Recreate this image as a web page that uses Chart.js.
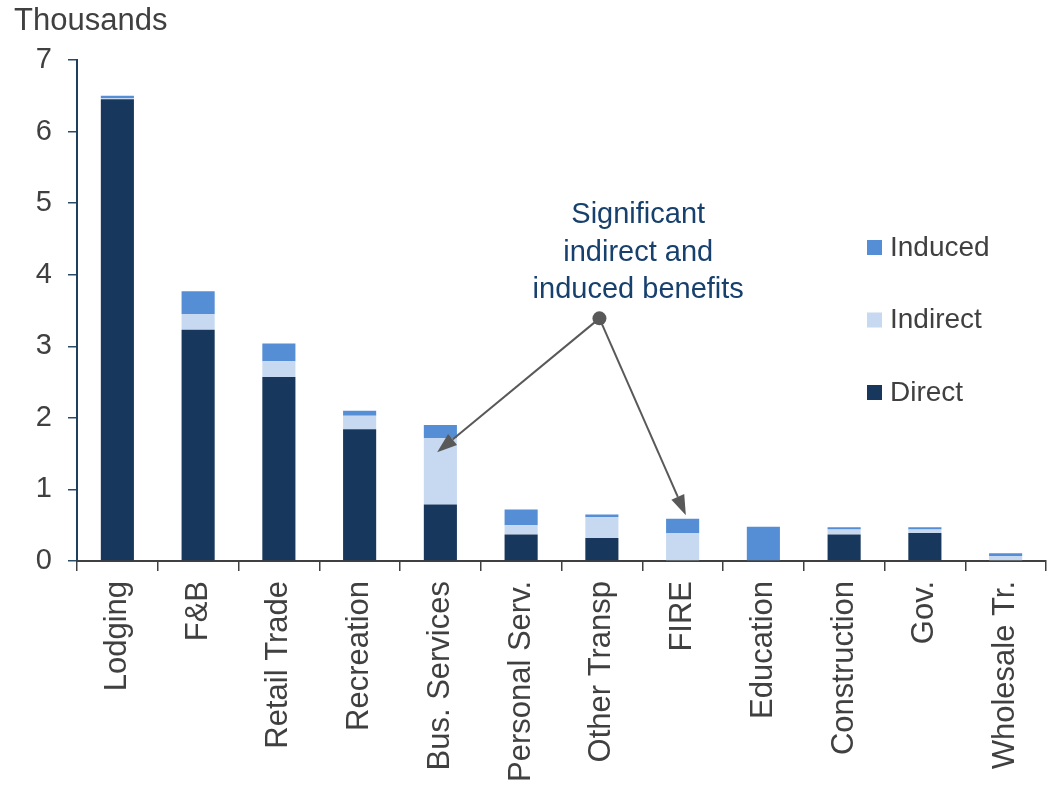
<!DOCTYPE html>
<html>
<head>
<meta charset="utf-8">
<script src="https://cdn.jsdelivr.net/npm/chart.js@4"></script>
<style>
  html, body { margin: 0; padding: 0; background: #fff; }
  #wrap { width: 1055px; height: 786px; }
</style>
</head>
<body>
<div id="wrap"><canvas id="jobsChart" width="1055" height="786"></canvas></div>
<script>
// Emplois par secteur (milliers)
const sectors = ['Lodging', 'F&B', 'Retail Trade', 'Recreation', 'Bus. Services', 'Personal Serv.',
  'Other Transp', 'FIRE', 'Education', 'Construction', 'Gov.', 'Wholesale Tr.'];
const direct   = [6.45, 3.23, 2.57, 1.84, 0.79, 0.37, 0.32, 0.00, 0.00, 0.37, 0.39, 0.01];
const indirect = [0.02, 0.22, 0.22, 0.19, 0.93, 0.13, 0.29, 0.39, 0.00, 0.07, 0.05, 0.06];
const induced  = [0.03, 0.32, 0.25, 0.07, 0.18, 0.22, 0.04, 0.20, 0.48, 0.03, 0.03, 0.04];
const yTicks = [0, 1, 2, 3, 4, 5, 6, 7];

const noteLines = ['Significant', 'indirect and', 'induced benefits'];

const FONT = '"Liberation Sans", Arial, sans-serif';
const TEXT = '#404040';

// =========================
// Légende + annotation
// =========================
const overlay = {
  id: 'overlay',
  afterDraw(chart) {
    const ctx = chart.ctx;
    const x = chart.scales.x;
    const y = chart.scales.y;
    ctx.save();

    // titre d'axe
    ctx.font = '31px ' + FONT;
    ctx.fillStyle = TEXT;
    ctx.textAlign = 'left';
    ctx.textBaseline = 'middle';
    ctx.fillText('Thousands', 14, 21);

    // légende (ordre inverse : Induced en haut)
    const items = chart.data.datasets.slice().reverse();
    items.forEach((ds, i) => {
      const cy = 247 + i * 72.5;
      ctx.fillStyle = ds.backgroundColor;
      ctx.fillRect(867, cy - 7, 15, 15);
      ctx.fillStyle = TEXT;
      ctx.font = '28px ' + FONT;
      ctx.textAlign = 'left';
      ctx.fillText(ds.label, 890, cy + 1);
    });

    // texte de l'annotation
    ctx.fillStyle = '#17406d';
    ctx.font = '29px ' + FONT;
    ctx.textAlign = 'center';
    const tx = x.getPixelForValue(6.45);
    noteLines.forEach((line, i) => {
      ctx.fillText(line, tx, y.getPixelForValue(4.83 - i * 0.525));
    });

    // flèches
    const ox = x.getPixelForValue(5.97), oy = y.getPixelForValue(3.39);
    const targets = [
      [x.getPixelForValue(3.96), y.getPixelForValue(1.52)],
      [x.getPixelForValue(7.04), y.getPixelForValue(0.64)]
    ];
    ctx.strokeStyle = '#595959';
    ctx.fillStyle = '#595959';
    ctx.lineWidth = 2;
    targets.forEach(([tx2, ty2]) => {
      const ang = Math.atan2(ty2 - oy, tx2 - ox);
      const len = 20, half = 7;
      const bx = tx2 - len * Math.cos(ang), by = ty2 - len * Math.sin(ang);
      ctx.beginPath();
      ctx.moveTo(ox, oy);
      ctx.lineTo(bx, by);
      ctx.stroke();
      ctx.beginPath();
      ctx.moveTo(tx2, ty2);
      ctx.lineTo(bx + half * Math.sin(ang), by - half * Math.cos(ang));
      ctx.lineTo(bx - half * Math.sin(ang), by + half * Math.cos(ang));
      ctx.closePath();
      ctx.fill();
    });
    ctx.beginPath();
    ctx.arc(ox, oy, 7, 0, Math.PI * 2);
    ctx.fill();

    ctx.restore();
  }
};

const chartCtx = document.getElementById('jobsChart');

new Chart(chartCtx, {
  type: 'bar',
  data: {
    labels: sectors,
    datasets: [
      { label: 'Direct', data: direct, backgroundColor: '#18375c' },
      { label: 'Indirect', data: indirect, backgroundColor: '#c6d9f0' },
      { label: 'Induced', data: induced, backgroundColor: '#558ed5' }
    ]
  },
  options: {
    responsive: false,
    animation: false,
    layout: { padding: { top: 60, right: 9, left: 0, bottom: 0 } },
    datasets: {
      bar: { categoryPercentage: 1, barPercentage: 0.41, borderWidth: 0 }
    },
    plugins: {
      legend: { display: false },
      tooltip: { enabled: false }
    },
    scales: {
      x: {
        stacked: true,
        grid: { drawOnChartArea: false, drawTicks: true, tickLength: 10, color: '#404040', lineWidth: 1.5 },
        border: { color: '#404040', width: 2 },
        ticks: {
          color: TEXT,
          font: { family: FONT, size: 31 },
          maxRotation: 90,
          minRotation: 90,
          padding: 10,
          autoSkip: false
        },
        afterFit(scale) { scale.height = 225; }
      },
      y: {
        stacked: true,
        min: 0,
        max: 7,
        afterBuildTicks(scale) { scale.ticks = yTicks.map(v => ({ value: v })); },
        grid: { drawOnChartArea: false, tickLength: 9, color: '#2a4a66', lineWidth: 1.5 },
        border: { color: '#1f3f5f', width: 2 },
        ticks: {
          color: TEXT,
          font: { family: FONT, size: 29 },
          padding: 16
        },
        afterFit(scale) { scale.width = 77; }
      }
    }
  },
  plugins: [overlay]
});
</script>
</body>
</html>
